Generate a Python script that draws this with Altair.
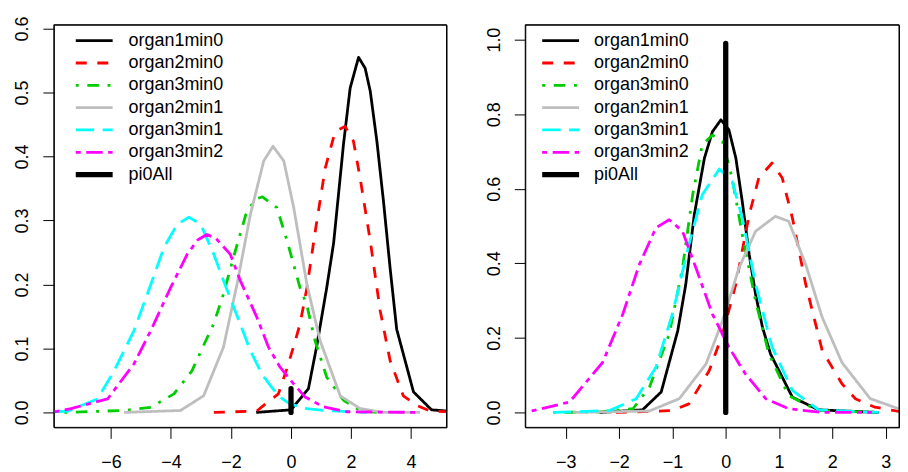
import altair as alt
import pandas as pd

names = ["organ1min0", "organ2min0", "organ3min0", "organ2min1", "organ3min1", "organ3min2", "pi0All"]
colors = ["#000000", "#FF0000", "#00CD00", "#BEBEBE", "#00FFFF", "#FF00FF", "#000000"]
dashes = [[1, 0], [11, 10.6], [2.9, 8.7, 11.6, 8.7], [1, 0], [18.5, 8.5], [5, 5.5, 16.5, 5.5], [1, 0]]
widths = [2.8, 2.8, 2.8, 2.8, 2.8, 2.8, 5.3]

# ---- left panel ----
L_x = {
    "organ1min0": [-1.16, 0.0, 0.58, 0.85, 1.19, 1.42, 1.58, 1.75, 1.97, 2.25, 2.47, 2.64, 2.86, 3.08, 3.30, 3.52, 4.08, 4.68, 5.24],
    "organ2min0": [-2.57, -1.14, -0.86, -0.42, -0.14, 0.08, 0.30, 0.53, 0.81, 1.14, 1.47, 1.80, 2.08, 2.30, 2.64, 2.97, 3.30, 3.74, 4.19, 4.63, 5.24],
    "organ3min0": [-7.55, -5.56, -4.67, -3.90, -3.30, -2.86, -2.58, -2.25, -1.90, -1.50, -1.20, -0.95, -0.47, -0.13, 0.30, 0.52, 0.80, 1.19, 1.75, 2.30, 2.86],
    "organ2min1": [-5.56, -3.68, -2.91, -2.25, -1.80, -1.35, -0.91, -0.60, -0.24, 0.09, 0.53, 0.97, 1.64, 2.30, 3.08, 4.30],
    "organ3min1": [-7.88, -7.44, -6.45, -5.89, -5.23, -4.67, -4.23, -3.79, -3.40, -3.01, -2.57, -2.25, -1.69, -1.36, -0.97, -0.64, -0.37, -0.03, 0.52, 1.07, 2.52],
    "organ3min2": [-7.88, -7.33, -6.11, -5.23, -4.67, -4.01, -3.46, -3.10, -2.80, -2.50, -2.02, -1.69, -1.14, -0.75, -0.37, 0.08, 0.47, 1.07, 1.86, 4.30],
    "pi0All": [0.0, 0.0],
}
L_y = {
    "organ1min0": [0.0, 0.004, 0.037, 0.102, 0.195, 0.265, 0.34, 0.42, 0.507, 0.555, 0.538, 0.502, 0.424, 0.33, 0.226, 0.13, 0.032, 0.004, 0.002],
    "organ2min0": [0.0, 0.002, 0.013, 0.029, 0.068, 0.102, 0.138, 0.195, 0.284, 0.382, 0.439, 0.447, 0.424, 0.367, 0.268, 0.159, 0.081, 0.026, 0.011, 0.002, 0.001],
    "organ3min0": [0.0, 0.003, 0.008, 0.029, 0.065, 0.11, 0.138, 0.185, 0.245, 0.31, 0.333, 0.337, 0.32, 0.268, 0.195, 0.169, 0.112, 0.055, 0.019, 0.003, 0.0],
    "organ2min1": [0.0, 0.003, 0.026, 0.102, 0.2, 0.31, 0.393, 0.416, 0.393, 0.32, 0.2, 0.112, 0.026, 0.006, 0.0, 0.0],
    "organ3min1": [0.001, 0.002, 0.021, 0.065, 0.128, 0.2, 0.258, 0.294, 0.305, 0.294, 0.247, 0.206, 0.138, 0.097, 0.06, 0.039, 0.024, 0.013, 0.006, 0.003, 0.0],
    "organ3min2": [0.001, 0.006, 0.021, 0.076, 0.128, 0.195, 0.247, 0.27, 0.278, 0.272, 0.247, 0.206, 0.149, 0.102, 0.071, 0.045, 0.024, 0.009, 0.001, 0.0],
    "pi0All": [0.0, 0.037],
}

# ---- right panel ----
R_x = {
    "organ1min0": [-2.37, -1.56, -1.21, -0.90, -0.75, -0.59, -0.40, -0.25, -0.09, 0.06, 0.19, 0.31, 0.44, 0.56, 0.69, 0.84, 1.25, 1.74, 2.87],
    "organ2min0": [-2.06, -1.0, -0.69, -0.31, -0.06, 0.19, 0.44, 0.62, 0.87, 1.06, 1.25, 1.50, 1.81, 2.18, 2.43, 2.80, 3.36],
    "organ3min0": [-3.24, -2.43, -1.74, -1.43, -1.06, -0.81, -0.62, -0.44, -0.25, -0.06, 0.12, 0.31, 0.56, 0.81, 1.18, 1.74, 2.87],
    "organ2min1": [-2.87, -1.43, -0.87, -0.37, -0.06, 0.25, 0.56, 0.93, 1.18, 1.50, 1.81, 2.18, 2.71, 3.36],
    "organ3min1": [-3.24, -2.18, -1.68, -1.31, -1.0, -0.69, -0.44, -0.12, 0.12, 0.31, 0.56, 0.87, 1.25, 1.74, 2.87],
    "organ3min2": [-3.64, -2.93, -2.31, -1.93, -1.62, -1.31, -1.06, -0.81, -0.56, -0.25, 0.06, 0.37, 0.75, 1.18, 1.81, 2.74],
    "pi0All": [0.0, 0.0],
}
R_y = {
    "organ1min0": [0.0, 0.007, 0.055, 0.219, 0.343, 0.53, 0.682, 0.753, 0.785, 0.758, 0.682, 0.566, 0.424, 0.317, 0.228, 0.157, 0.041, 0.007, 0.0],
    "organ2min0": [0.0, 0.005, 0.023, 0.112, 0.21, 0.344, 0.53, 0.629, 0.669, 0.629, 0.522, 0.344, 0.166, 0.077, 0.037, 0.014, 0.0],
    "organ3min0": [0.0, 0.001, 0.01, 0.068, 0.21, 0.388, 0.584, 0.718, 0.744, 0.727, 0.629, 0.477, 0.299, 0.157, 0.045, 0.005, 0.0],
    "organ2min1": [0.0, 0.004, 0.037, 0.13, 0.246, 0.388, 0.486, 0.526, 0.513, 0.397, 0.255, 0.134, 0.037, 0.004],
    "organ3min1": [0.0, 0.005, 0.037, 0.121, 0.264, 0.45, 0.584, 0.653, 0.62, 0.522, 0.344, 0.175, 0.059, 0.007, 0.0],
    "organ3min2": [0.004, 0.028, 0.134, 0.264, 0.397, 0.495, 0.517, 0.486, 0.388, 0.264, 0.175, 0.103, 0.037, 0.01, 0.0, 0.0],
    "pi0All": [0.0, 0.99],
}

L_xticks = [-6, -4, -2, 0, 2, 4]
L_yticks = [0.0, 0.1, 0.2, 0.3, 0.4, 0.5, 0.6]
R_xticks = [-3, -2, -1, 0, 1, 2, 3]
R_yticks = [0.0, 0.2, 0.4, 0.6, 0.8, 1.0]

FONT = "Liberation Sans, Arial, Helvetica"
PANEL_H = 404


def frame(xs, ys):
    rows = []
    for s in names:
        for i, (xv, yv) in enumerate(zip(xs[s], ys[s])):
            rows.append({"series": s, "x": xv, "y": yv, "idx": i})
    return pd.DataFrame(rows)


def panel(df, xdom, ydom, xticks, yticks, legx, laboff, w):
    leg = alt.Legend(
        title=None, orient="none", legendX=legx, legendY=5,
        symbolType="stroke", symbolSize=1369, clipHeight=22, rowPadding=0.4,
        labelFontSize=18, labelFont=FONT, labelColor="black", labelOffset=laboff,
        padding=0, labelLimit=300,
    )
    enc = dict(
        x=alt.X("x:Q", title=None,
                scale=alt.Scale(domain=xdom, nice=False, zero=False),
                axis=alt.Axis(values=xticks, format="d", grid=False, domain=False,
                              tickSize=11, tickColor="black", labelFontSize=18, labelFont=FONT,
                              labelColor="black", labelPadding=15, labelFlush=False,
                              labelOverlap=False)),
        y=alt.Y("y:Q", title=None,
                scale=alt.Scale(domain=ydom, nice=False, zero=False),
                axis=alt.Axis(values=yticks, format=".1f", grid=False, domain=False,
                              tickSize=11, tickColor="black", labelFontSize=18, labelFont=FONT,
                              labelColor="black", labelAngle=270, labelAlign="center",
                              labelBaseline="alphabetic", labelPadding=15, labelFlush=False,
                              labelOverlap=False, minExtent=45, maxExtent=45)),
        color=alt.Color("series:N", scale=alt.Scale(domain=names, range=colors), legend=leg),
        strokeDash=alt.StrokeDash("series:N", scale=alt.Scale(domain=names, range=dashes), legend=leg),
        strokeWidth=alt.StrokeWidth("series:N", scale=alt.Scale(type="ordinal", domain=names, range=widths), legend=leg),
        order=alt.Order("idx:Q"),
    )
    curves = alt.Chart(df[df.series != "pi0All"]).mark_line(clip=True, strokeJoin="round").encode(**enc)
    pi = alt.Chart(df[df.series == "pi0All"]).mark_line(clip=True, strokeCap="round").encode(**enc)
    box = alt.Chart(pd.DataFrame({"k": [0]})).mark_rect(
        filled=False, stroke="black", strokeWidth=1
    ).encode(
        x=alt.value(0), x2=alt.value(w), y=alt.value(0), y2=alt.value(PANEL_H)
    )
    return alt.layer(curves, pi, box).properties(width=w, height=PANEL_H)


left = panel(frame(L_x, L_y), [-7.9, 5.18], [-0.0234, 0.606], L_xticks, L_yticks, 19, 13, 394)
right = panel(frame(R_x, R_y), [-3.76, 3.25], [-0.04, 1.04], R_xticks, R_yticks, 14, 12, 375)

chart = (
    alt.hconcat(left, right, spacing=32)
    .resolve_scale(x="independent", y="independent", color="independent",
                   strokeDash="independent", strokeWidth="independent")
    .resolve_legend(color="independent", strokeDash="independent", strokeWidth="independent")
    .properties(padding={"left": 0, "top": 6, "right": 0, "bottom": 0}, background="white")
    .configure_view(stroke="black", strokeWidth=1)
)

chart.save("out.html", embed_options={"renderer": "svg", "actions": False})
